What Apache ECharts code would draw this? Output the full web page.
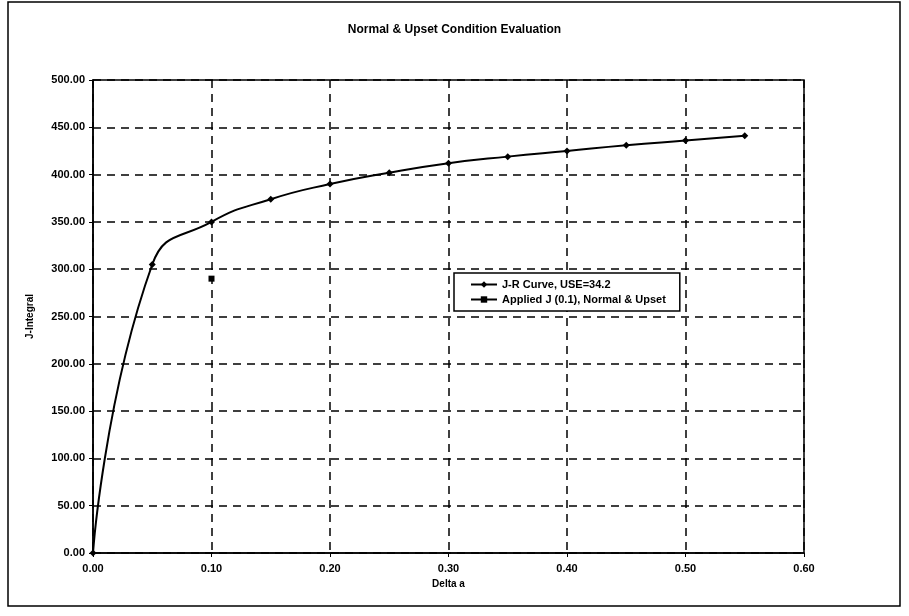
<!DOCTYPE html>
<html>
<head>
<meta charset="utf-8">
<script src="https://cdn.jsdelivr.net/npm/echarts@6/dist/echarts.min.js"></script>
<style>
  html, body { margin: 0; padding: 0; background: #fff; }
  #chart { width: 909px; height: 616px; }
</style>
</head>
<body>
<div id="chart"></div>
<script>
// J-R curve (crack extension vs J-integral)
const deltaA = [0.00, 0.05, 0.10, 0.15, 0.20, 0.25, 0.30, 0.35, 0.40, 0.45, 0.50, 0.55];
const jrValues = [0, 305, 350, 374, 390, 402, 412, 419, 425, 431, 436, 441];
// applied J at 0.1 in crack extension
const appliedX = [0.10];
const appliedJ = [290];

const font = 'Liberation Sans, Arial, sans-serif';

const chart = echarts.init(document.getElementById('chart'));
chart.setOption({
  animation: false,
  backgroundColor: '#fff',
  title: {
    text: 'Normal & Upset Condition Evaluation',
    left: 'center',
    top: 19,
    textStyle: { fontFamily: font, fontSize: 12, fontWeight: 'bold', color: '#000' }
  },
  graphic: [{
    type: 'rect',
    shape: { x: 8, y: 2, width: 892, height: 604 },
    style: { fill: 'none', stroke: '#000', lineWidth: 1.5 }
  }],
  grid: {
    left: 93, right: 105, top: 80, bottom: 63,
    show: true, borderColor: '#000', borderWidth: 1.5, backgroundColor: 'transparent'
  },
  legend: {
    orient: 'vertical',
    left: 454, top: 273,
    width: 230,
    padding: [6, 14, 6, 16],
    itemGap: 4,
    itemWidth: 26, itemHeight: 8,
    backgroundColor: '#fff',
    borderColor: '#000', borderWidth: 1.5,
    textStyle: { fontFamily: font, fontSize: 11, fontWeight: 'bold', color: '#000' },
    data: ['J-R Curve, USE=34.2', 'Applied J (0.1), Normal & Upset']
  },
  xAxis: {
    type: 'value',
    min: 0, max: 0.6, interval: 0.1,
    name: 'Delta a',
    nameLocation: 'middle',
    nameGap: 26,
    nameTextStyle: { fontFamily: font, fontSize: 10, fontWeight: 'bold', color: '#000' },
    axisLine: { lineStyle: { color: '#000', width: 1.5 } },
    axisTick: { show: true, length: 4, lineStyle: { color: '#000' } },
    axisLabel: { fontFamily: font, fontSize: 11, fontWeight: 'bold', color: '#000', margin: 10,
      formatter: v => v.toFixed(2) },
    splitLine: { show: true, lineStyle: { color: '#000', type: [8, 6], width: 1.5 } }
  },
  yAxis: {
    type: 'value',
    min: 0, max: 500, interval: 50,
    name: 'J-Integral',
    nameLocation: 'middle',
    nameGap: 58,
    nameRotate: 90,
    nameTextStyle: { fontFamily: font, fontSize: 10, fontWeight: 'bold', color: '#000' },
    axisLine: { show: true, lineStyle: { color: '#000', width: 1.5 } },
    axisTick: { show: true, length: 4, lineStyle: { color: '#000' } },
    axisLabel: { fontFamily: font, fontSize: 11, fontWeight: 'bold', color: '#000', margin: 8,
      formatter: v => v.toFixed(2) },
    splitLine: { show: true, lineStyle: { color: '#000', type: [8, 6], width: 1.5 } }
  },
  series: [
    {
      name: 'J-R Curve, USE=34.2',
      type: 'line',
      data: deltaA.map((x, i) => [x, jrValues[i]]),
      smooth: 0.5,
      symbol: 'diamond',
      symbolSize: 7,
      itemStyle: { color: '#000' },
      lineStyle: { color: '#000', width: 2 }
    },
    {
      name: 'Applied J (0.1), Normal & Upset',
      type: 'line',
      data: appliedX.map((x, i) => [x, appliedJ[i]]),
      symbol: 'rect',
      symbolSize: 6,
      itemStyle: { color: '#000' },
      lineStyle: { color: '#000', width: 2 }
    }
  ]
});
</script>
</body>
</html>
